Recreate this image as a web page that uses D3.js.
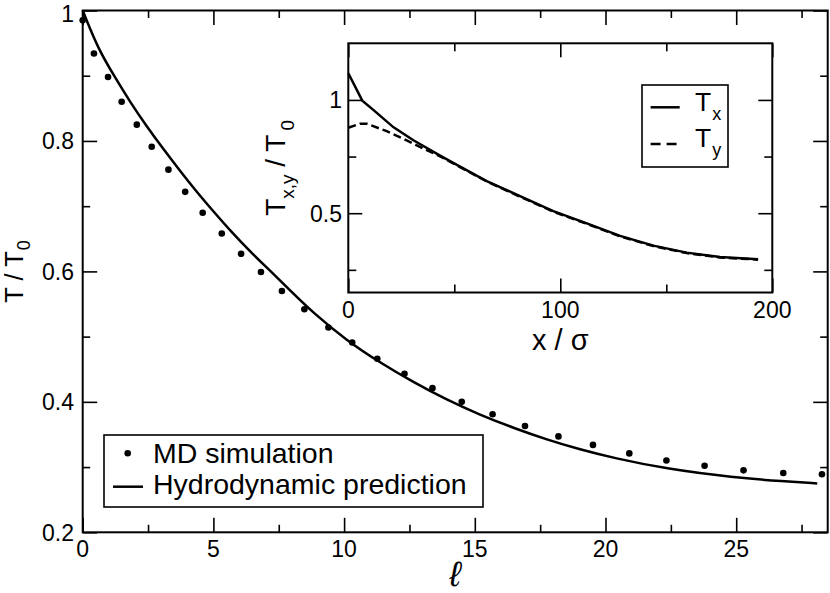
<!DOCTYPE html>
<html><head><meta charset="utf-8">
<script src="https://cdn.jsdelivr.net/npm/d3@7"></script>
<style>
html,body{margin:0;padding:0;background:#fff;}
svg{display:block;}
</style></head>
<body>
<svg id="c" width="830" height="593" font-family="Liberation Sans, Arial, sans-serif"></svg>
<script>
// ---- main chart data ----
const mdX = [0,0.43,0.97,1.49,2.07,2.64,3.28,3.92,4.59,5.32,6.06,6.82,7.62,8.48,9.40,10.31,11.27,12.31,13.38,14.50,15.68,16.92,18.20,19.52,20.91,22.33,23.79,25.28,26.80,28.28];
const mdT = [0.985,0.934,0.898,0.860,0.825,0.791,0.756,0.722,0.690,0.658,0.627,0.599,0.570,0.542,0.514,0.491,0.466,0.443,0.421,0.400,0.381,0.363,0.347,0.334,0.321,0.310,0.302,0.295,0.291,0.289];
const hydX = [0,0.6,1.26,1.81,2.42,3.02,3.69,4.34,5.0,5.70,6.44,7.17,7.93,8.83,10.1,11.38,12.65,13.93,15.2,16.48,17.76,19.03,20.3,22.35,24.9,26.82,28.1];
const hydT = [1.0,0.940,0.896,0.860,0.824,0.791,0.756,0.723,0.692,0.660,0.629,0.601,0.571,0.536,0.494,0.460,0.430,0.403,0.380,0.360,0.342,0.327,0.314,0.297,0.284,0.278,0.275];
const mainXTicks = [0,5,10,15,20,25];
const mainXMinor = [2.5,7.5,12.5,17.5,22.5,27.5];
const mainYTicks = [0.2,0.4,0.6,0.8,1];
const mainYMinor = [0.3,0.5,0.7,0.9];
const legendLabels = ["MD simulation","Hydrodynamic prediction"];

// ---- inset data ----
const txX = [0,6.6,11.8,21.2,30.7,43.3,49.5,65.3,81.0,96.7,112.5,128.2,143.9,159.6,175.3,193.3];
const txT = [1.118,0.997,0.956,0.880,0.822,0.754,0.722,0.642,0.575,0.509,0.455,0.400,0.357,0.326,0.307,0.297];
const tyX = [0,5.5,8.7,18.1,27.5,37.0,43.3,49.5,65.3,81.0,96.7,112.5,128.2,143.9,159.6,175.3,193.3];
const tyT = [0.877,0.895,0.895,0.862,0.822,0.778,0.751,0.720,0.640,0.573,0.507,0.453,0.398,0.355,0.324,0.305,0.295];
const inXTicks = [0,100,200];
const inXMinor = [50,150];
const inYTicks = [0.5,1];
const inYMinor = [0.25,0.75];

const svg = d3.select("#c");

// ---------- MAIN ----------
const M = {l:82.7, t:10.5, r:827.7, b:532.3};
const x = d3.scaleLinear().domain([0,28.5]).range([M.l,M.r]);
const y = d3.scaleLinear().domain([0.2,1]).range([M.b,M.t]);

function axes(g, xs, ys, xT, xMin, yT, yMin, box, maj, mn){
  const W = box.r-box.l, H = box.b-box.t;
  const mk = (gen, tr, vals, size) => {
    const a = g.append("g").attr("transform", tr)
      .call(gen.tickValues(vals).tickSize(size).tickSizeOuter(0).tickFormat(""));
    a.select(".domain").remove();
    a.selectAll("line").attr("stroke","#000").attr("stroke-width",1.6);
  };
  mk(d3.axisBottom(xs), `translate(0,${box.b})`, xT, -maj);
  mk(d3.axisBottom(xs), `translate(0,${box.b})`, xMin, -mn);
  mk(d3.axisTop(xs), `translate(0,${box.t})`, xT, -maj);
  mk(d3.axisTop(xs), `translate(0,${box.t})`, xMin, -mn);
  mk(d3.axisLeft(ys), `translate(${box.l},0)`, yT, -maj);
  mk(d3.axisLeft(ys), `translate(${box.l},0)`, yMin, -mn);
  mk(d3.axisRight(ys), `translate(${box.r},0)`, yT, -maj);
  mk(d3.axisRight(ys), `translate(${box.r},0)`, yMin, -mn);
  g.append("rect").attr("x",box.l).attr("y",box.t).attr("width",W).attr("height",H)
    .attr("fill","none").attr("stroke","#000").attr("stroke-width",2);
}

const gm = svg.append("g");
gm.append("rect").attr("x",M.l).attr("y",M.t).attr("width",M.r-M.l).attr("height",M.b-M.t).attr("fill","#fff");

const hydData = hydX.map((v,i)=>[v,hydT[i]]);
gm.append("path").datum(hydData)
  .attr("d", d3.line().x(d=>x(d[0])).y(d=>y(d[1])).curve(d3.curveBasis))
  .attr("fill","none").attr("stroke","#000").attr("stroke-width",2.5);

gm.selectAll("circle.md").data(mdX.map((v,i)=>[v,mdT[i]])).join("circle")
  .attr("class","md").attr("cx",d=>x(d[0])).attr("cy",d=>y(d[1])).attr("r",3.3).attr("fill","#000");

axes(gm, x, y, mainXTicks, mainXMinor, mainYTicks, mainYMinor, M, 14.5, 7.5);

// tick labels
gm.selectAll("text.xt").data(mainXTicks).join("text").attr("class","xt")
  .attr("x",d=>x(d)).attr("y",557).attr("text-anchor","middle")
  .attr("font-size",23).text(d=>d);
gm.selectAll("text.yt").data(mainYTicks).join("text").attr("class","yt")
  .attr("x",74).attr("y",d=>Math.max(y(d)+8.3,21.5)).attr("text-anchor","end")
  .attr("font-size",23).text(d=>d);

// axis titles
gm.append("text").attr("x",(M.l+M.r)/2).attr("y",586).attr("text-anchor","middle")
  .attr("font-size",35).attr("font-style","italic").text("\u2113");
const yl = gm.append("text").attr("transform",`translate(23,${(M.t+M.b)/2}) rotate(-90)`)
  .attr("text-anchor","middle").attr("font-size",25.5);
yl.append("tspan").text("T / T");
yl.append("tspan").attr("font-size",18).attr("dy",7).attr("dx",1).text("0");

// legend
const lg = gm.append("g");
lg.append("rect").attr("x",104).attr("y",435).attr("width",379).attr("height",72)
  .attr("fill","#fff").attr("stroke","#000").attr("stroke-width",1.6);
lg.append("circle").attr("cx",127.7).attr("cy",453.3).attr("r",3.3).attr("fill","#000");
lg.append("line").attr("x1",113).attr("x2",143).attr("y1",486.7).attr("y2",486.7)
  .attr("stroke","#000").attr("stroke-width",2.5);
lg.selectAll("text").data(legendLabels).join("text")
  .attr("x",153).attr("y",(d,i)=>463+i*30.5).attr("font-size",28.5).text(d=>d);

// ---------- INSET ----------
const I = {l:348.3, t:43.3, r:772.3, b:292.5};
const xi = d3.scaleLinear().domain([0,200]).range([I.l,I.r]);
const yi = d3.scaleLinear().domain([0.15,1.25]).range([I.b,I.t]);
const gi = svg.append("g");
gi.append("rect").attr("x",I.l).attr("y",I.t).attr("width",I.r-I.l).attr("height",I.b-I.t).attr("fill","#fff");

const lineI = d3.line().x(d=>xi(d[0])).y(d=>yi(d[1]));
gi.append("path").datum(tyX.map((v,i)=>[v,tyT[i]])).attr("d",lineI)
  .attr("fill","none").attr("stroke","#000").attr("stroke-width",2.5).attr("stroke-dasharray","8,4");
gi.append("path").datum(txX.map((v,i)=>[v,txT[i]])).attr("d",lineI)
  .attr("fill","none").attr("stroke","#000").attr("stroke-width",2.5);

axes(gi, xi, yi, inXTicks, inXMinor, inYTicks, inYMinor, I, 14, 8);

gi.selectAll("text.xt").data(inXTicks).join("text").attr("class","xt")
  .attr("x",d=>xi(d)).attr("y",318).attr("text-anchor","middle")
  .attr("font-size",23).text(d=>d);
gi.selectAll("text.yt").data(inYTicks).join("text").attr("class","yt")
  .attr("x",342).attr("y",d=>yi(d)+8.3).attr("text-anchor","end")
  .attr("font-size",23).text(d=>d);

gi.append("text").attr("x",(I.l+I.r)/2).attr("y",350).attr("text-anchor","middle")
  .attr("font-size",29).text("x / \u03c3");

const yli = gi.append("text").attr("transform",`translate(285,${(I.t+I.b)/2}) rotate(-90)`)
  .attr("text-anchor","middle").attr("font-size",28);
yli.append("tspan").text("T");
yli.append("tspan").attr("font-size",19).attr("dy",9).text("x,y");
yli.append("tspan").attr("dy",-9).text(" / T");
yli.append("tspan").attr("font-size",19).attr("dy",9).attr("dx",4).text("0");

// inset legend
const li = gi.append("g");
li.append("rect").attr("x",642).attr("y",85).attr("width",86).attr("height",82)
  .attr("fill","#fff").attr("stroke","#000").attr("stroke-width",1.6);
li.append("line").attr("x1",650.6).attr("x2",679.7).attr("y1",107.3).attr("y2",107.3)
  .attr("stroke","#000").attr("stroke-width",2.5);
li.append("line").attr("x1",650.6).attr("x2",679.7).attr("y1",144).attr("y2",144)
  .attr("stroke","#000").attr("stroke-width",2.5).attr("stroke-dasharray","10,6");
const t1 = li.append("text").attr("x",695).attr("y",110.7).attr("font-size",26.5);
t1.append("tspan").text("T");
t1.append("tspan").attr("font-size",18).attr("dy",9).attr("dx",1).text("x");
const t2 = li.append("text").attr("x",695).attr("y",147.3).attr("font-size",26.5);
t2.append("tspan").text("T");
t2.append("tspan").attr("font-size",18).attr("dy",9).attr("dx",1).text("y");
</script>
</body></html>
